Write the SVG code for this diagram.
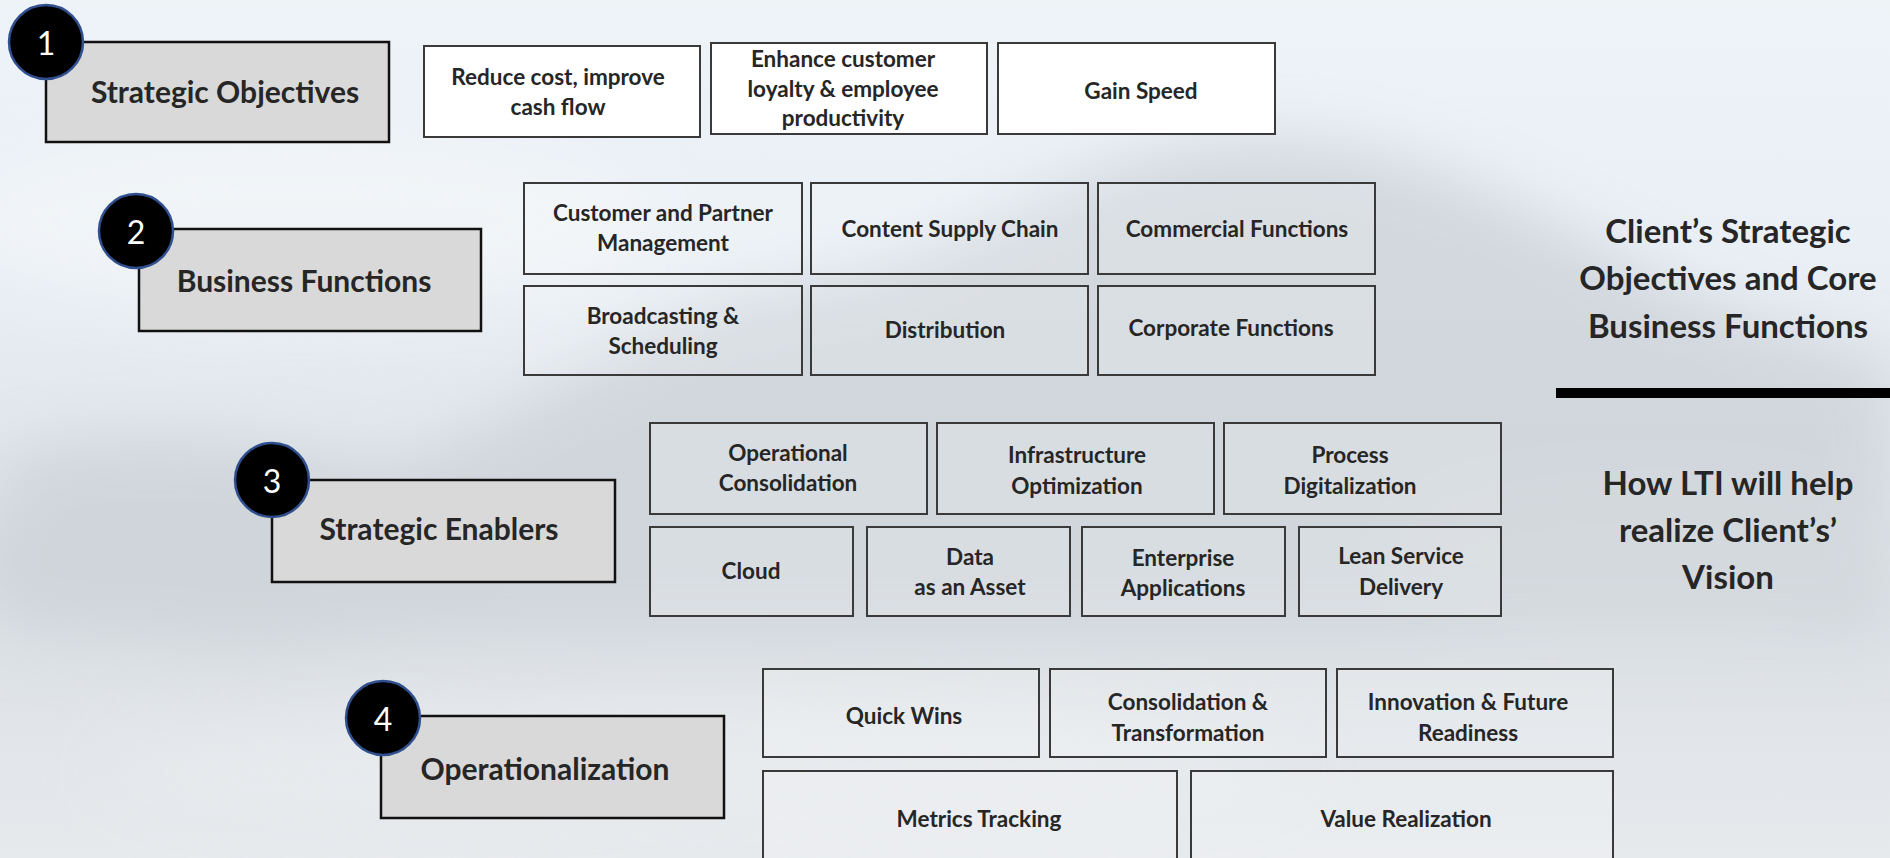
<svg xmlns="http://www.w3.org/2000/svg" width="1890" height="858" viewBox="0 0 1890 858">
  <defs>
    <linearGradient id="sky" x1="0" y1="0" x2="0" y2="1">
      <stop offset="0" stop-color="#eef3f8"/>
      <stop offset="0.3" stop-color="#e9eff5"/>
      <stop offset="0.55" stop-color="#e0e5ea"/>
      <stop offset="0.8" stop-color="#dfe3e7"/>
      <stop offset="1" stop-color="#e7eaed"/>
    </linearGradient>
    <filter id="mist" x="-20%" y="-50%" width="140%" height="200%">
      <feGaussianBlur stdDeviation="30"/>
    </filter>
    <style>
      .lvl { fill: #d9d9d9; stroke: #111; stroke-width: 2.5; }
      .lvl-text { font-family: Lato, "Liberation Sans", sans-serif; font-weight: 700; font-size: 30px; fill: #262626; text-anchor: middle; dominant-baseline: central; }
      .badge { fill: #000; stroke: #2f4f8f; stroke-width: 2.5; }
      .badge-text { font-family: Lato, "Liberation Sans", sans-serif; font-size: 32px; fill: #fff; text-anchor: middle; dominant-baseline: central; }
      .card { fill: #ffffff; fill-opacity: 0.18; stroke: #3a3a3a; stroke-width: 2; }
      .card.solid { fill-opacity: 1; }
      .card-text { font-family: Lato, "Liberation Sans", sans-serif; font-weight: 700; font-size: 22.5px; fill: #262626; text-anchor: middle; dominant-baseline: central; }
      .side-text { font-family: Lato, "Liberation Sans", sans-serif; font-weight: 700; font-size: 33px; fill: #262626; text-anchor: middle; dominant-baseline: central; }
    </style>
  </defs>

  <!-- misty forest backdrop -->
  <rect x="0" y="0" width="1890" height="858" fill="url(#sky)"/>
  <g filter="url(#mist)" opacity="0.8">
    <path d="M0 460 C120 420 260 440 380 470 C520 430 640 300 820 280 C960 260 1060 150 1250 140 C1420 130 1560 230 1700 300 C1800 340 1890 360 1890 360 L1890 640 L0 640 Z" fill="#cdd3d9"/>
    <ellipse cx="250" cy="560" rx="300" ry="90" fill="#ccd2d7"/>
    <ellipse cx="1000" cy="470" rx="420" ry="110" fill="#cdd3d8"/>
    <ellipse cx="1650" cy="560" rx="260" ry="80" fill="#d2d7db"/>
    <ellipse cx="700" cy="770" rx="600" ry="60" fill="#e9ecef"/>
    <ellipse cx="300" cy="220" rx="350" ry="90" fill="#f2f5f8"/>
  </g>

  <!-- 1: strategic objectives -->
  <g id="level-1">
    <rect class="lvl" x="46" y="42" width="343" height="100"/>
    <text class="lvl-text" x="225" y="91">Strategic Objectives</text>
    <circle class="badge" cx="46" cy="42" r="37"/>
    <text class="badge-text" x="46" y="42">1</text>
  </g>
  <g id="obj-cost">
    <rect class="card solid" x="424" y="46" width="276" height="91"/>
    <text class="card-text" x="558" y="76">Reduce cost, improve</text>
    <text class="card-text" x="558" y="106">cash flow</text>
  </g>
  <g id="obj-loyalty">
    <rect class="card solid" x="711" y="43" width="276" height="91"/>
    <text class="card-text" x="843" y="58">Enhance customer</text>
    <text class="card-text" x="843" y="88">loyalty &amp; employee</text>
    <text class="card-text" x="843" y="117">productivity</text>
  </g>
  <g id="obj-speed">
    <rect class="card solid" x="998" y="43" width="277" height="91"/>
    <text class="card-text" x="1141" y="90">Gain Speed</text>
  </g>

  <!-- 2: business functions -->
  <g id="level-2">
    <rect class="lvl" x="139" y="229" width="342" height="102"/>
    <text class="lvl-text" x="304" y="280">Business Functions</text>
    <circle class="badge" cx="136" cy="231" r="37"/>
    <text class="badge-text" x="136" y="231">2</text>
  </g>
  <g id="bf-customer">
    <rect class="card" x="524" y="183" width="278" height="91"/>
    <text class="card-text" x="663" y="212">Customer and Partner</text>
    <text class="card-text" x="663" y="242">Management</text>
  </g>
  <g id="bf-content">
    <rect class="card" x="811" y="183" width="277" height="91"/>
    <text class="card-text" x="950" y="228">Content Supply Chain</text>
  </g>
  <g id="bf-commercial">
    <rect class="card" x="1098" y="183" width="277" height="91"/>
    <text class="card-text" x="1237" y="228">Commercial Functions</text>
  </g>
  <g id="bf-broadcasting">
    <rect class="card" x="524" y="286" width="278" height="89"/>
    <text class="card-text" x="663" y="315">Broadcasting &amp;</text>
    <text class="card-text" x="663" y="345">Scheduling</text>
  </g>
  <g id="bf-distribution">
    <rect class="card" x="811" y="286" width="277" height="89"/>
    <text class="card-text" x="945" y="329">Distribution</text>
  </g>
  <g id="bf-corporate">
    <rect class="card" x="1098" y="286" width="277" height="89"/>
    <text class="card-text" x="1231" y="327">Corporate Functions</text>
  </g>

  <!-- 3: strategic enablers -->
  <g id="level-3">
    <rect class="lvl" x="272" y="480" width="343" height="102"/>
    <text class="lvl-text" x="439" y="528">Strategic Enablers</text>
    <circle class="badge" cx="272" cy="480" r="37"/>
    <text class="badge-text" x="272" y="480">3</text>
  </g>
  <g id="se-operational">
    <rect class="card" x="650" y="423" width="277" height="91"/>
    <text class="card-text" x="788" y="452">Operational</text>
    <text class="card-text" x="788" y="482">Consolidation</text>
  </g>
  <g id="se-infrastructure">
    <rect class="card" x="937" y="423" width="277" height="91"/>
    <text class="card-text" x="1077" y="454">Infrastructure</text>
    <text class="card-text" x="1077" y="485">Optimization</text>
  </g>
  <g id="se-process">
    <rect class="card" x="1224" y="423" width="277" height="91"/>
    <text class="card-text" x="1350" y="454">Process</text>
    <text class="card-text" x="1350" y="485">Digitalization</text>
  </g>
  <g id="se-cloud">
    <rect class="card" x="650" y="527" width="203" height="89"/>
    <text class="card-text" x="751" y="570">Cloud</text>
  </g>
  <g id="se-data">
    <rect class="card" x="867" y="527" width="203" height="89"/>
    <text class="card-text" x="970" y="556">Data</text>
    <text class="card-text" x="970" y="586">as an Asset</text>
  </g>
  <g id="se-enterprise">
    <rect class="card" x="1082" y="527" width="203" height="89"/>
    <text class="card-text" x="1183" y="557">Enterprise</text>
    <text class="card-text" x="1183" y="587">Applications</text>
  </g>
  <g id="se-lean">
    <rect class="card" x="1299" y="527" width="202" height="89"/>
    <text class="card-text" x="1401" y="555">Lean Service</text>
    <text class="card-text" x="1401" y="586">Delivery</text>
  </g>

  <!-- 4: operationalization -->
  <g id="level-4">
    <rect class="lvl" x="381" y="716" width="343" height="102"/>
    <text class="lvl-text" x="545" y="768">Operationalization</text>
    <circle class="badge" cx="383" cy="718" r="37"/>
    <text class="badge-text" x="383" y="718">4</text>
  </g>
  <g id="op-quickwins">
    <rect class="card" x="763" y="669" width="276" height="88"/>
    <text class="card-text" x="904" y="715">Quick Wins</text>
  </g>
  <g id="op-consolidation">
    <rect class="card" x="1050" y="669" width="276" height="88"/>
    <text class="card-text" x="1188" y="701">Consolidation &amp;</text>
    <text class="card-text" x="1188" y="732">Transformation</text>
  </g>
  <g id="op-innovation">
    <rect class="card" x="1337" y="669" width="276" height="88"/>
    <text class="card-text" x="1468" y="701">Innovation &amp; Future</text>
    <text class="card-text" x="1468" y="732">Readiness</text>
  </g>
  <g id="op-metrics">
    <rect class="card" x="763" y="771" width="414" height="100"/>
    <text class="card-text" x="979" y="818">Metrics Tracking</text>
  </g>
  <g id="op-value">
    <rect class="card" x="1191" y="771" width="422" height="100"/>
    <text class="card-text" x="1406" y="818">Value Realization</text>
  </g>

  <!-- side captions -->
  <g id="caption-client">
    <text class="side-text" x="1728" y="230">Client’s Strategic</text>
    <text class="side-text" x="1728" y="277">Objectives and Core</text>
    <text class="side-text" x="1728" y="325">Business Functions</text>
  </g>
  <rect id="divider" x="1556" y="388" width="334" height="10" fill="#000"/>
  <g id="caption-lti">
    <text class="side-text" x="1728" y="482">How LTI will help</text>
    <text class="side-text" x="1728" y="529">realize Client’s’</text>
    <text class="side-text" x="1728" y="576">Vision</text>
  </g>

  <g id="connectors"/>
</svg>
